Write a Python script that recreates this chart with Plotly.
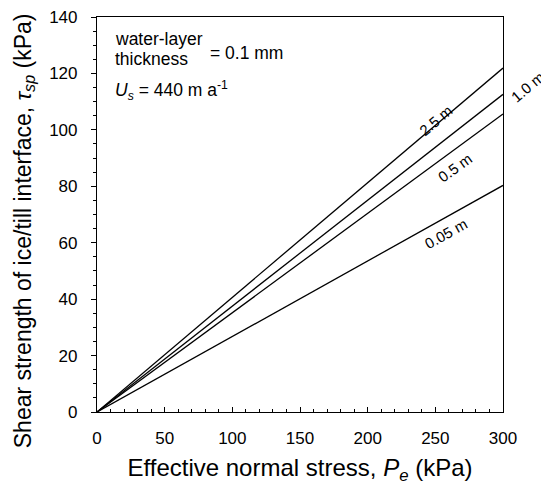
import plotly.graph_objects as go

# Data
thickness_labels = ["0.05 m", "0.5 m", "1.0 m", "2.5 m"]
stress_x = [0, 300]
tau_005 = [0, 80.3]
tau_05 = [0, 105.6]
tau_10 = [0, 112.6]
tau_25 = [0, 121.9]
series = [tau_005, tau_05, tau_10, tau_25]

fig = go.Figure()
for name, ys in zip(thickness_labels, series):
    fig.add_trace(go.Scatter(x=stress_x, y=ys, mode="lines", name=name,
                             line=dict(color="black", width=1.3), showlegend=False))

font = "Liberation Sans, Arial, sans-serif"

# Line labels in paper coords: (x, y, angle)
label_pos = {
    "2.5 m": (0.834, 0.738, -40),
    "1.0 m": (1.062, 0.823, -40),
    "0.5 m": (0.882, 0.620, -36),
    "0.05 m": (0.860, 0.452, -29),
}
for t, (lx, ly, ang) in label_pos.items():
    fig.add_annotation(x=lx, y=ly, xref="paper", yref="paper", text=t, showarrow=False,
                       xanchor="center", yanchor="middle",
                       textangle=ang, font=dict(family=font, size=15, color="black"))

def note(text, x, y):
    fig.add_annotation(x=x, y=y, xref="paper", yref="paper", xanchor="left", yanchor="middle",
                       text=text, showarrow=False, align="left",
                       font=dict(family=font, size=17.5, color="black"))

note("water-layer", 0.040, 0.944)
note("thickness", 0.040, 0.894)
note("= 0.1 mm", 0.273, 0.910)
note("<i>U<sub>s</sub></i> = 440 m a<sup>-1</sup>", 0.040, 0.815)

# y-axis title placed as a rotated annotation
fig.add_annotation(x=-0.180, y=0.46, xref="paper", yref="paper", xanchor="center", yanchor="middle",
                   text="Shear strength of ice/till interface, <i>τ<sub>sp</sub></i> (kPa)",
                   textangle=-90, showarrow=False,
                   font=dict(family=font, size=23, color="black"))

# page body adds an 8px offset; layout is sized to compensate
fig.update_layout(
    width=541, height=483,
    margin=dict(l=89, r=46, t=9, b=79),
    plot_bgcolor="white", paper_bgcolor="white",
    font=dict(family=font, color="black"),
    xaxis=dict(range=[0, 300], tickvals=[0, 50, 100, 150, 200, 250, 300],
               ticks="inside", ticklen=5, tickcolor="black", showgrid=False, zeroline=False,
               showline=True, linecolor="black", linewidth=1.2, mirror=True,
               minor=dict(dtick=10, ticks="inside", ticklen=3, tickcolor="black"),
               tickfont=dict(size=17), ticklabelstandoff=10, automargin=False,
               ticklabeloverflow="allow",
               title=dict(text="Effective normal stress, <i>P<sub>e</sub></i> (kPa)",
                          font=dict(size=24), standoff=12)),
    yaxis=dict(range=[0, 140], tickvals=[0, 20, 40, 60, 80, 100, 120, 140],
               ticks="outside", ticklen=5, tickcolor="black", showgrid=False, zeroline=False,
               showline=True, linecolor="black", linewidth=1.2, mirror=True,
               minor=dict(dtick=5, ticks="outside", ticklen=3, tickcolor="black"),
               tickfont=dict(size=17), ticklabelstandoff=10, automargin=False,
               ticklabeloverflow="allow"),
)

fig.write_html("out.html")
